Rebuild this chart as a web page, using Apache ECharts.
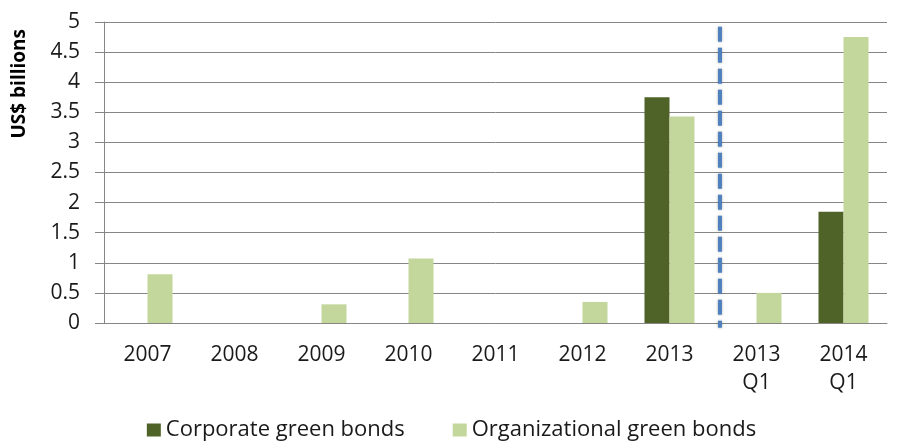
<!DOCTYPE html>
<html><head><meta charset="utf-8">
<script src="https://cdn.jsdelivr.net/npm/echarts@6/dist/echarts.min.js"></script>
<style>html,body{margin:0;padding:0;background:#fff}#c{width:903px;height:441px}</style>
</head><body><div id="c"></div>
<script>
const categories = ['2007','2008','2009','2010','2011','2012','2013','2013\nQ1','2014\nQ1'];
const corporate = [0,0,0,0,0,0,3.75,0,1.85];
const organizational = [0.81,0,0.31,1.07,0,0.35,3.43,0.50,4.75];
const seriesNames = ['Corporate green bonds','Organizational green bonds'];
const yTicks = {min:0, max:5, interval:0.5};
const dividerX = [7.08, 7.08];
const dividerY = [4.92, -0.08];

const font = 'Open Sans';
const chart = echarts.init(document.getElementById('c'));
chart.setOption({
  animation:false,
  backgroundColor:'#fff',
  textStyle:{fontFamily:font},
  graphic:[{type:'text', left:10, top:29, rotation:Math.PI/2,
    style:{text:'US$ billions', font:'bold 19px "Open Sans"', fill:'#000'}}],
  grid:{left:104, right:16, top:22, bottom:118},
  legend:{top:414, left:'center', icon:'rect', itemWidth:14, itemHeight:13, itemGap:48,
    data:seriesNames, textStyle:{fontSize:22, color:'#1a1a1a', fontFamily:font}},
  xAxis:[{type:'category', data:categories,
    axisLine:{lineStyle:{color:'#868686'}},
    axisTick:{alignWithLabel:true, length:6, lineStyle:{color:'#868686'}},
    axisLabel:{fontSize:21, color:'#1a1a1a', margin:18, lineHeight:28, interval:0}},
   {type:'value', min:0, max:categories.length, show:false}],
  yAxis:{type:'value', min:yTicks.min, max:yTicks.max, interval:yTicks.interval,
    axisLine:{show:true, lineStyle:{color:'#868686'}},
    axisTick:{show:true, length:9, lineStyle:{color:'#868686'}},
    splitLine:{lineStyle:{color:'#868686'}},
    axisLabel:{fontSize:21, color:'#1a1a1a', margin:24}},
  series:[
    {name:seriesNames[0], type:'bar', data:corporate, barGap:'0%', barCategoryGap:'42.5%',
      itemStyle:{color:'#4F6228'}},
    {name:seriesNames[1], type:'bar', data:organizational,
      itemStyle:{color:'#C3D69B'}},
    {type:'line', xAxisIndex:1, data:dividerX.map((x,i)=>[x,dividerY[i]]), symbol:'none', clip:false,
      silent:true,
      lineStyle:{color:'#4F81BD', width:4, type:[15,6], shadowColor:'rgba(0,0,0,0.3)', shadowBlur:3}}
  ]
});
</script></body></html>
